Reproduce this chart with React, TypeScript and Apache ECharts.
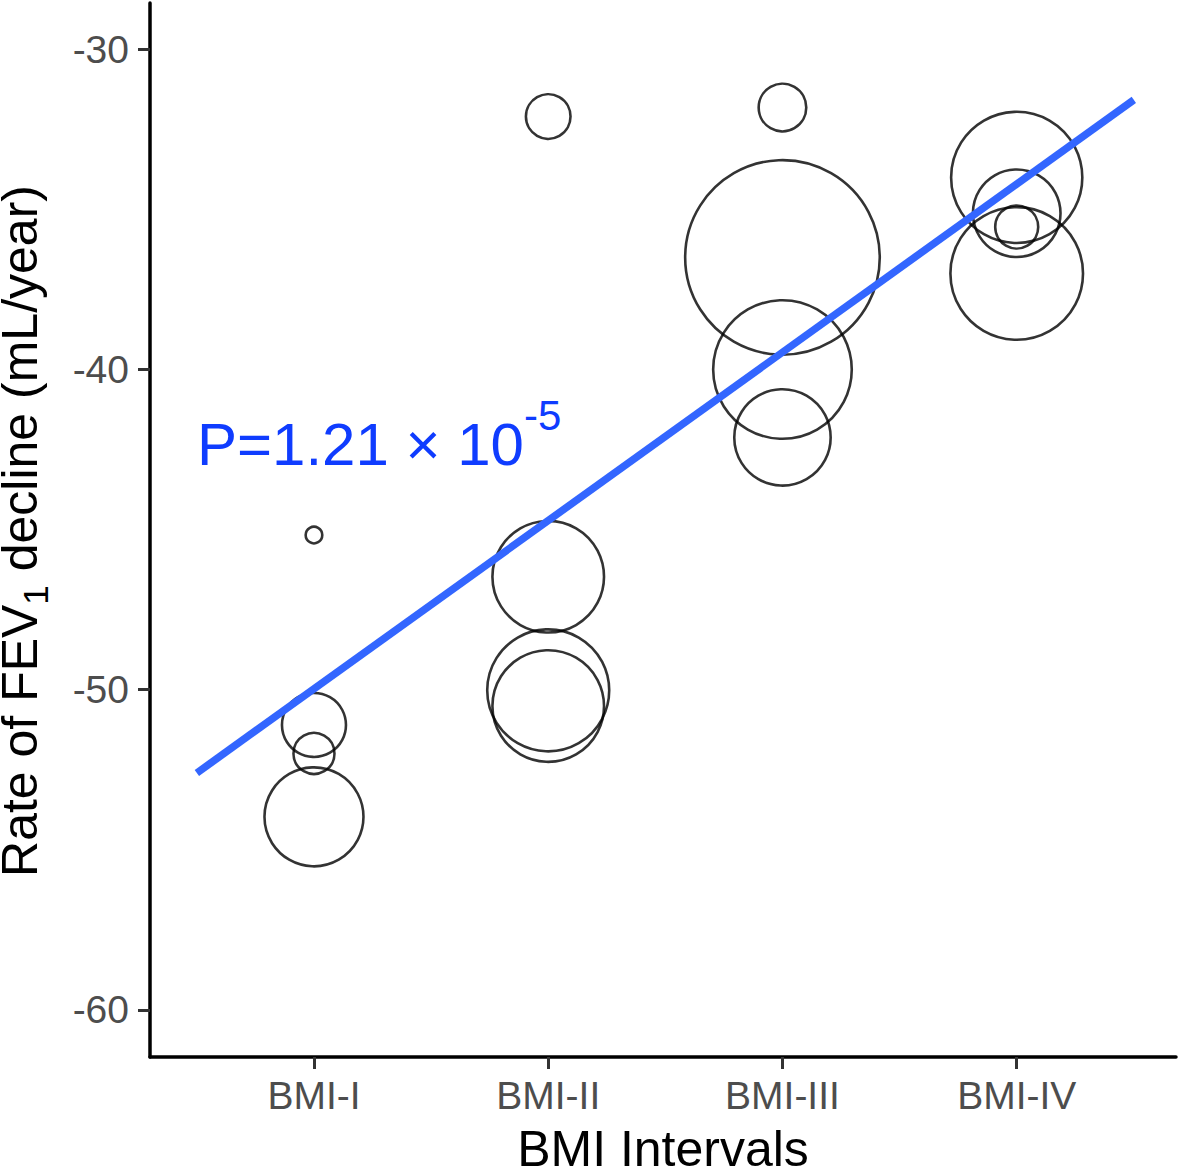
import React, { useEffect, useRef } from "react";
import * as echarts from "echarts";

// ---- data ----
const categories = ["BMI-I", "BMI-II", "BMI-III", "BMI-IV"];
const categoryPositions = [1, 2, 3, 4];
const yTickValues = [-60, -50, -40, -30];

// rate of FEV1 decline (mL/year) per bubble, and bubble radius (visual weight)
const bmi1Rates = [-45.17, -51.1, -51.99, -53.97];
const bmi1Sizes = [8.3, 32, 20.5, 49.5];
const bmi2Rates = [-32.1, -46.47, -50.02, -50.51];
const bmi2Sizes = [22.3, 55.8, 61, 55.8];
const bmi3Rates = [-31.82, -36.5, -40.0, -42.12];
const bmi3Sizes = [23.8, 97.3, 69.3, 48.2];
const bmi4Rates = [-34.0, -35.12, -35.55, -37.0];
const bmi4Sizes = [65.6, 43.8, 21.5, 66.3];

// fitted regression line endpoints
const fitX = [0.5, 4.5];
const fitY = [-52.6, -31.58];

const FONT = "'Liberation Sans', Arial, Helvetica, sans-serif";

function buildBubbles() {
  const groups = [
    [bmi1Rates, bmi1Sizes],
    [bmi2Rates, bmi2Sizes],
    [bmi3Rates, bmi3Sizes],
    [bmi4Rates, bmi4Sizes],
  ];
  const out: number[][] = [];
  groups.forEach(([rates, sizes], gi) => {
    rates.forEach((r, i) => out.push([categoryPositions[gi], r, sizes[i]]));
  });
  return out;
}

export default function App() {
  const ref = useRef<HTMLDivElement>(null);
  useEffect(() => {
    if (!ref.current) return;
    const chart = echarts.init(ref.current, null, { renderer: "svg" });
    const option: any = {
      animation: false,
      backgroundColor: "#ffffff",
      grid: {
        left: 150,
        right: 5,
        top: 3,
        bottom: 115,
        containLabel: false,
        outerBoundsMode: "none",
      },
      xAxis: {
        type: "value",
        min: 0.3,
        max: 4.68,
        axisLine: { show: true, onZero: false, lineStyle: { color: "#000", width: 3.5 } },
        axisTick: {
          show: true,
          length: 12,
          customValues: categoryPositions,
          lineStyle: { color: "#333333", width: 3 },
        },
        axisLabel: {
          show: true,
          customValues: categoryPositions,
          formatter: (v: number) => categories[Math.round(v) - 1] ?? "",
          color: "#4d4d4d",
          fontSize: 39,
          fontFamily: FONT,
          margin: 19,
        },
        splitLine: { show: false },
      },
      yAxis: {
        type: "value",
        min: -61.47,
        max: -28.554,
        axisLine: { show: true, onZero: false, lineStyle: { color: "#000", width: 3.5 } },
        axisTick: {
          show: true,
          length: 12,
          customValues: yTickValues,
          lineStyle: { color: "#333333", width: 3 },
        },
        axisLabel: {
          show: true,
          customValues: yTickValues,
          formatter: (v: number) => String(Math.round(v)),
          color: "#4d4d4d",
          fontSize: 39,
          fontFamily: FONT,
          margin: 21,
        },
        splitLine: { show: false },
      },
      series: [
        {
          type: "scatter",
          data: buildBubbles(),
          symbol: "circle",
          symbolSize: (val: number[]) => val[2] * 2,
          itemStyle: { color: "rgba(0,0,0,0)", borderColor: "#000", borderWidth: 2.6 },
          z: 2,
          silent: true,
        },
        {
          type: "line",
          data: fitX.map((x, i) => [x, fitY[i]]),
          showSymbol: false,
          symbol: "none",
          lineStyle: { color: "#3366FF", width: 7.5, cap: "butt" },
          z: 5,
          silent: true,
        },
      ],
      graphic: [
        {
          type: "text",
          x: 197,
          y: 444,
          z: 10,
          style: {
            text: "{a|P=1.21 × 10}{b|-5}",
            align: "left",
            verticalAlign: "middle",
            rich: {
              a: { fontSize: 60, fontFamily: FONT, fill: "#0f3cff", lineHeight: 100 },
              b: { fontSize: 42, fontFamily: FONT, fill: "#0f3cff", lineHeight: 42, verticalAlign: "top" },
            },
          },
        },
        {
          type: "text",
          x: 20,
          y: 531,
          rotation: Math.PI / 2,
          style: {
            text: "{a|Rate of FEV}{s|1}{a| decline (mL/year)}",
            align: "center",
            verticalAlign: "middle",
            rich: {
              a: { fontSize: 50, fontFamily: FONT, fill: "#000", lineHeight: 66 },
              s: { fontSize: 35, fontFamily: FONT, fill: "#000", lineHeight: 35, verticalAlign: "bottom" },
            },
          },
        },
        {
          type: "text",
          x: 663,
          y: 1149,
          style: {
            text: "BMI Intervals",
            align: "center",
            verticalAlign: "middle",
            fontSize: 50,
            lineHeight: 40,
            fontFamily: FONT,
            fill: "#000",
          },
        },
      ],
    };
    chart.setOption(option);
    return () => chart.dispose();
  }, []);
  return (
    <div
      ref={ref}
      style={{ position: "absolute", left: 0, top: 0, width: 1181, height: 1172, background: "#fff" }}
    />
  );
}
